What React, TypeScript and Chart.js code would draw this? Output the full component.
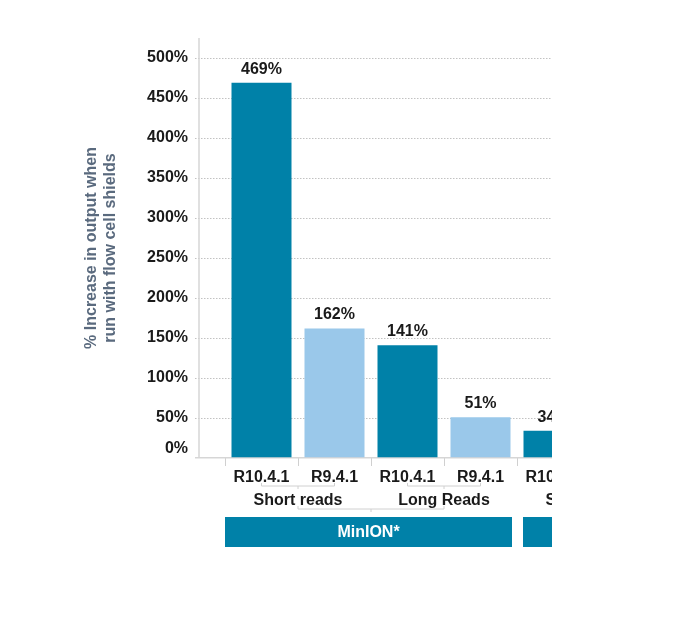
import { useEffect, useRef } from 'react';
import { Chart, registerables } from 'chart.js';

Chart.register(...registerables);

// ---- data ----
const categories = ['R10.4.1', 'R9.4.1', 'R10.4.1', 'R9.4.1', 'R10.4.1', 'R9.4.1'];
const increasePct: (number | null)[] = [469, 162, 141, 51, 34, null];
const readTypes = ['Short reads', 'Long Reads', 'Short reads'];
const readTypeSpan = [2, 2, 2]; // categories per read type
const devices = ['MinION*', ''];
const deviceSpan = [2, 1]; // read types per device
const yMax = 525;
const yStep = 50;
const yTitle = ['% Increase in output when', 'run with flow cell shields'];

const TEAL = '#0081a8';
const LIGHT = '#9ac8ea';
const TEXT = '#1a1a1a';
const FONT = "'Liberation Sans', Arial, sans-serif";
const GRID = '#c2c2c2';
const BASE = '#d6d6d6';

const groupPlugin = {
  id: 'groupPlugin',
  afterDraw(chart: any) {
    const { ctx, chartArea } = chart;
    const x = chart.scales.x;
    const bottom = chartArea.bottom;
    const half = (x.getPixelForValue(1) - x.getPixelForValue(0)) / 2;
    ctx.save();

    // vertical axis line, set off to the left of the plot
    ctx.strokeStyle = BASE;
    ctx.lineWidth = 1.5;
    ctx.beginPath();
    ctx.moveTo(chartArea.left - 26, chartArea.top);
    ctx.lineTo(chartArea.left - 26, bottom);
    ctx.stroke();

    // value labels
    const meta = chart.getDatasetMeta(0);
    ctx.fillStyle = TEXT;
    ctx.font = `bold 16px ${FONT}`;
    ctx.textAlign = 'center';
    ctx.textBaseline = 'alphabetic';
    meta.data.forEach((bar: any, i: number) => {
      const v = increasePct[i];
      if (v === null || v === undefined) return;
      ctx.fillText(`${v}%`, bar.x, bar.y - 9);
    });

    const bracket = (x1: number, x2: number, yy: number) => {
      const c = (x1 + x2) / 2;
      ctx.beginPath();
      ctx.moveTo(x1, yy - 3);
      ctx.lineTo(x1, yy);
      ctx.lineTo(x2, yy);
      ctx.lineTo(x2, yy - 3);
      ctx.moveTo(c, yy);
      ctx.lineTo(c, yy + 3);
      ctx.stroke();
    };

    // read-type row
    ctx.strokeStyle = '#d0d0d0';
    ctx.lineWidth = 1;
    let idx = 0;
    const rtFirst: number[] = [];
    const rtCenters: number[] = [];
    readTypes.forEach((name, g) => {
      const span = readTypeSpan[g];
      const p1 = x.getPixelForValue(idx);
      const p2 = x.getPixelForValue(idx + span - 1);
      bracket(p1, p2, bottom + 28);
      const c = (p1 + p2) / 2;
      rtCenters.push(c);
      rtFirst.push(idx);
      ctx.fillStyle = TEXT;
      ctx.font = `bold 16px ${FONT}`;
      ctx.textAlign = 'center';
      ctx.textBaseline = 'alphabetic';
      ctx.fillText(name, c, bottom + 47);
      idx += span;
    });

    // device row
    let g0 = 0;
    devices.forEach((name, d) => {
      const span = deviceSpan[d];
      const gLast = g0 + span - 1;
      if (span > 1) {
        ctx.strokeStyle = '#d0d0d0';
        bracket(rtCenters[g0], rtCenters[gLast], bottom + 51);
      }
      const c0 = rtFirst[g0];
      const c1 = rtFirst[gLast] + readTypeSpan[gLast] - 1;
      const left = x.getPixelForValue(c0) - half + (d > 0 ? 6 : 0);
      const right = x.getPixelForValue(c1) + half - 5;
      ctx.fillStyle = TEAL;
      ctx.fillRect(left, bottom + 59, right - left, 30);
      if (name) {
        ctx.fillStyle = '#ffffff';
        ctx.font = `bold 16px ${FONT}`;
        ctx.textAlign = 'center';
        ctx.textBaseline = 'middle';
        ctx.fillText(name, (left + right) / 2, bottom + 74.5);
      }
      g0 += span;
    });

    ctx.restore();
  },
};

export default function App() {
  const ref = useRef<HTMLCanvasElement | null>(null);

  useEffect(() => {
    if (!ref.current) return;
    Chart.defaults.font.family = FONT;
    const isBase = (c: any) => c.tick && c.tick.value === 0;
    const chart = new Chart(ref.current, {
      type: 'bar',
      data: {
        labels: categories,
        datasets: [
          {
            data: increasePct,
            backgroundColor: categories.map((c) => (c === 'R10.4.1' ? TEAL : LIGHT)),
            borderWidth: 0,
            categoryPercentage: 1,
            barPercentage: 0.822,
          },
        ],
      },
      options: {
        animation: false,
        responsive: false,
        layout: { padding: { top: 30, right: 25, bottom: 0, left: 0 } },
        plugins: { legend: { display: false }, tooltip: { enabled: false } },
        scales: {
          x: {
            type: 'category',
            offset: true,
            grid: {
              offset: true,
              drawOnChartArea: false,
              drawTicks: true,
              tickLength: 8,
              color: '#d0d0d0',
            },
            border: { display: false },
            ticks: {
              color: TEXT,
              font: { size: 16, weight: 'bold' },
              padding: 2,
              maxRotation: 0,
              autoSkip: false,
            },
            afterFit: (s: any) => {
              s.height = 150;
            },
          },
          y: {
            min: 0,
            max: yMax,
            grid: {
              drawTicks: true,
              tickLength: 30,
              color: (c: any) => (isBase(c) ? BASE : GRID),
              tickColor: (c: any) => (isBase(c) ? BASE : GRID),
              tickBorderDash: (c: any) => (isBase(c) ? [] : [1.5, 1.5]),
              lineWidth: (c: any) => (isBase(c) ? 1.5 : 1),
              tickWidth: (c: any) => (isBase(c) ? 1.5 : 1),
            },
            border: {
              display: false,
              dash: (c: any) => (isBase(c) ? [] : [1.5, 1.5]),
            },
            ticks: {
              stepSize: yStep,
              includeBounds: false,
              color: TEXT,
              font: { size: 16, weight: 'bold' },
              padding: 7,
              callback: (v: any) => (v === 0 ? ['0%', ''] : `${v}%`),
            },
            title: {
              display: true,
              text: yTitle,
              color: '#5a6a7e',
              font: { size: 16, weight: 'bold', lineHeight: 1.2 },
              padding: { top: 74, bottom: 0 },
            },
            afterFit: (s: any) => {
              s.width = 217;
            },
          },
        },
      },
      plugins: [groupPlugin],
    } as any);
    return () => chart.destroy();
  }, []);

  return (
    <div style={{ width: 544, height: 600, overflow: 'hidden', position: 'relative' }}>
      <canvas ref={ref} width={680} height={600} style={{ display: 'block' }} />
    </div>
  );
}
